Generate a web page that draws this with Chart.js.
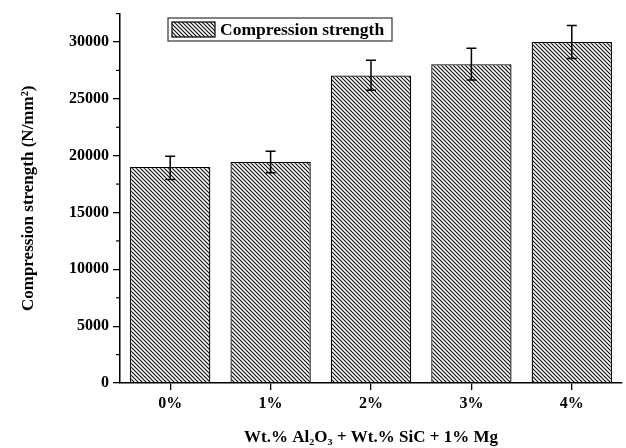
<!DOCTYPE html>
<html lang="en">
<head>
    <meta charset="UTF-8">
    <title>Compression strength</title>
    <script src="https://cdn.jsdelivr.net/npm/chart.js"></script>
    <style>
        html, body { margin: 0; padding: 0; background: #fff; }
        #wrap { width: 626px; height: 448px; }
    </style>
</head>
<body>
<div id="wrap"><canvas id="chart"></canvas></div>
<script>
    const categories = ['0%', '1%', '2%', '3%', '4%'];
    const strength = [19000, 19450, 27050, 28050, 30000];
    const errLow = [17900, 18500, 25750, 26650, 28550];
    const errHigh = [19950, 20400, 28400, 29450, 31450];
    const yTicks = [0, 5000, 10000, 15000, 20000, 25000, 30000];
    const yMinor = [2500, 7500, 12500, 17500, 22500, 27500, 32500];

    const FONT = "'Liberation Serif', 'Times New Roman', serif";

    function hatch() {
        const c = document.createElement('canvas');
        c.width = 4; c.height = 4;
        const g = c.getContext('2d');
        g.fillStyle = '#fff';
        g.fillRect(0, 0, 4, 4);
        g.strokeStyle = '#111';
        g.lineWidth = 1.2;
        g.beginPath();
        g.moveTo(-1, -1); g.lineTo(5, 5);
        g.moveTo(-1, 3); g.lineTo(1, 5);
        g.moveTo(3, -1); g.lineTo(5, 1);
        g.stroke();
        return g.createPattern(c, 'repeat');
    }
    const pattern = hatch();

    // error bars, minor ticks and framed legend
    const extras = {
        id: 'extras',
        afterDatasetsDraw(chart) {
            const ctx = chart.ctx;
            const x = chart.scales.x, y = chart.scales.y;
            ctx.save();
            ctx.strokeStyle = '#000';
            ctx.lineWidth = 1.5;
            categories.forEach((c, i) => {
                const px = x.getPixelForValue(i);
                const top = y.getPixelForValue(errHigh[i]);
                const bot = y.getPixelForValue(errLow[i]);
                ctx.beginPath();
                ctx.moveTo(px, top); ctx.lineTo(px, bot);
                ctx.moveTo(px - 5, top); ctx.lineTo(px + 5, top);
                ctx.moveTo(px - 5, bot); ctx.lineTo(px + 5, bot);
                ctx.stroke();
            });
            // minor ticks
            ctx.lineWidth = 1.2;
            yMinor.forEach(v => {
                const py = y.getPixelForValue(v);
                ctx.beginPath();
                ctx.moveTo(y.right - 4, py); ctx.lineTo(y.right, py);
                ctx.stroke();
            });
            // legend
            const lx = 168, ly = 18, lw = 224, lh = 23;
            ctx.fillStyle = '#fff';
            ctx.fillRect(lx, ly, lw, lh);
            ctx.lineWidth = 1.2;
            ctx.strokeStyle = '#333';
            ctx.strokeRect(lx, ly, lw, lh);
            ctx.fillStyle = pattern;
            ctx.fillRect(lx + 4, ly + 4, 43, lh - 8);
            ctx.strokeStyle = '#000';
            ctx.strokeRect(lx + 4, ly + 4, 43, lh - 8);
            ctx.fillStyle = '#000';
            ctx.font = 'bold 17.5px ' + FONT;
            ctx.textBaseline = 'middle';
            ctx.fillText(chart.data.datasets[0].label, lx + 52, ly + lh / 2 + 1);
            ctx.restore();
        }
    };

    new Chart(document.getElementById('chart'), {
        type: 'bar',
        data: {
            labels: categories,
            datasets: [{
                label: 'Compression strength',
                data: strength,
                backgroundColor: pattern,
                borderColor: '#000',
                borderWidth: 1.3,
                barPercentage: 0.8,
                categoryPercentage: 1.0
            }]
        },
        options: {
            responsive: true,
            maintainAspectRatio: false,
            animation: false,
            layout: { padding: { top: 8, right: 4, left: 0, bottom: 0 } },
            plugins: { legend: { display: false }, tooltip: { enabled: false } },
            scales: {
                x: {
                    offset: true,
                    grid: { offset: false, drawOnChartArea: false, tickLength: 7, color: '#000', lineWidth: 1.3 },
                    border: { color: '#000', width: 1.5 },
                    ticks: { color: '#000', font: { family: FONT, size: 16, weight: 'bold' }, padding: 4 },
                    title: {
                        display: true,
                        text: 'Wt.% Al\u2082O\u2083 + Wt.% SiC + 1% Mg',
                        color: '#000',
                        font: { family: FONT, size: 17, weight: 'bold' },
                        padding: { top: 6, bottom: 0 }
                    },
                    afterFit(s) { s.height = 65; }
                },
                y: {
                    min: 0,
                    max: 32500,
                    afterBuildTicks(s) { s.ticks = yTicks.map(v => ({ value: v })); },
                    grid: { drawOnChartArea: false, tickLength: 7, color: '#000', lineWidth: 1.3 },
                    border: { color: '#000', width: 1.5 },
                    ticks: {
                        color: '#000',
                        font: { family: FONT, size: 16, weight: 'bold' },
                        padding: 4,
                        callback: v => String(v)
                    },
                    title: {
                        display: true,
                        text: 'Compression strength (N/mm\u00b2)',
                        color: '#000',
                        font: { family: FONT, size: 17, weight: 'bold' },
                        padding: { top: 18, bottom: 0 }
                    },
                    afterFit(s) { s.width = 120; }
                }
            }
        },
        plugins: [extras]
    });
</script>
</body>
</html>
